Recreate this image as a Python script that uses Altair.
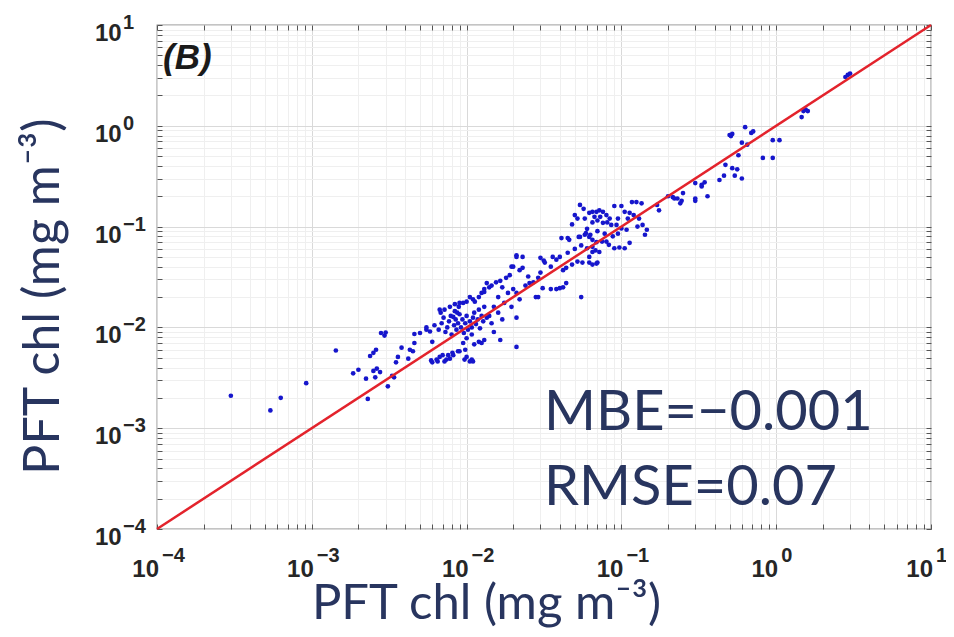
import altair as alt
import pandas as pd

# ---- data (obs, est) in mg m^-3 ----
low_pts = [
    (3.0e-4, 2.1e-3), (5.4e-4, 1.5e-3), (6.3e-4, 2.0e-3), (9.2e-4, 2.8e-3),
    (1.43e-3, 5.9e-3), (1.85e-3, 3.5e-3), (2.0e-3, 3.8e-3), (2.24e-3, 3.1e-3),
    (2.3e-3, 1.95e-3), (2.38e-3, 5.2e-3), (2.5e-3, 5.6e-3), (2.6e-3, 6.0e-3),
    (2.63e-3, 3.9e-3), (2.57e-3, 3.2e-3), (2.76e-3, 3.6e-3), (2.8e-3, 8.8e-3),
    (2.95e-3, 8.3e-3), (3.0e-3, 8.9e-3), (3.1e-3, 2.6e-3), (3.3e-3, 3.3e-3),
    (3.4e-3, 3.2e-3), (3.5e-3, 4.5e-3), (3.6e-3, 5.1e-3), (3.8e-3, 6.3e-3),
    (4.2e-3, 4.9e-3), (4.3e-3, 6.0e-3), (4.5e-3, 5.8e-3), (4.6e-3, 7.0e-3),
    (4.6e-3, 8.6e-3), (2.5e-3, 3.7e-3),
]

cluster_pts = [
    (5.0e-3, 8.8e-3), (5.5e-3, 9.5e-3), (5.5e-3, 1.0e-2), (5.8e-3, 9.1e-3),
    (6.0e-3, 7.2e-3), (6.0e-3, 4.5e-3), (5.9e-3, 4.7e-3), (6.4e-3, 4.8e-3),
    (6.5e-3, 4.6e-3), (6.7e-3, 5.1e-3), (7.0e-3, 5.3e-3), (7.2e-3, 4.6e-3),
    (7.4e-3, 4.8e-3), (7.6e-3, 5.3e-3), (7.8e-3, 4.9e-3), (8.1e-3, 5.6e-3),
    (8.2e-3, 5.3e-3), (8.8e-3, 5.8e-3), (9.0e-3, 5.8e-3), (9.7e-3, 4.8e-3),
    (9.8e-3, 6.0e-3), (1.0e-2, 5.1e-3), (1.05e-2, 4.6e-3), (1.08e-2, 4.8e-3),
    (1.1e-2, 4.6e-3), (9.5e-3, 7.0e-3), (1.0e-2, 7.8e-3), (1.08e-2, 8.5e-3),
    (1.12e-2, 6.8e-3), (1.2e-2, 7.2e-3), (1.25e-2, 7.0e-3), (1.3e-2, 7.5e-3),
    (6.2e-3, 1.05e-2), (6.6e-3, 9.5e-3), (6.9e-3, 1.1e-2), (7.1e-3, 1.25e-2),
    (7.3e-3, 9.0e-3), (7.5e-3, 1.0e-2), (7.7e-3, 1.15e-2), (7.9e-3, 1.3e-2),
    (8.0e-3, 8.5e-3), (8.3e-3, 1.05e-2), (8.5e-3, 1.2e-2), (8.6e-3, 9.5e-3),
    (8.8e-3, 1.1e-2), (9.0e-3, 1.35e-2), (9.2e-3, 1.0e-2), (9.4e-3, 1.2e-2),
    (9.6e-3, 8.8e-3), (9.8e-3, 1.1e-2), (1.0e-2, 1.3e-2), (1.02e-2, 9.5e-3),
    (1.05e-2, 1.15e-2), (1.08e-2, 1.0e-2), (1.1e-2, 1.25e-2), (1.12e-2, 1.4e-2),
    (1.15e-2, 1.08e-2), (1.18e-2, 1.2e-2), (1.2e-2, 1.5e-2), (1.22e-2, 9.8e-3),
    (1.25e-2, 1.3e-2), (1.28e-2, 1.15e-2), (1.3e-2, 1.6e-2), (1.35e-2, 1.25e-2),
    (6.8e-3, 1.4e-2), (7.2e-3, 1.5e-2), (8.4e-3, 1.45e-2), (8.9e-3, 1.6e-2),
    (6.7e-3, 1.5e-2), (7.8e-3, 1.6e-2), (8.4e-3, 1.7e-2), (9.0e-3, 1.75e-2),
    (1.0e-2, 1.8e-2), (1.1e-2, 1.9e-2), (1.2e-2, 2.0e-2), (1.3e-2, 2.4e-2),
    (1.35e-2, 2.75e-2), (8.2e-3, 1.27e-2), (8.7e-3, 1.4e-2), (9.5e-3, 1.75e-2),
    (1.05e-2, 2.0e-2), (1.13e-2, 1.8e-2), (1.25e-2, 2.2e-2), (1.3e-2, 2.25e-2),
]

mid_pts = [
    (1.4e-2, 2.5e-2), (1.45e-2, 2.6e-2), (1.55e-2, 2.8e-2), (1.65e-2, 2.9e-2),
    (1.7e-2, 2.5e-2), (1.8e-2, 3.1e-2), (1.9e-2, 3.3e-2), (1.95e-2, 4.0e-2),
    (2.0e-2, 4.0e-2), (2.1e-2, 5.0e-2), (2.3e-2, 5.0e-2), (2.1e-2, 5.2e-2),
    (2.2e-2, 3.7e-2), (2.3e-2, 3.9e-2), (2.55e-2, 2.75e-2), (2.7e-2, 2.8e-2),
    (2.9e-2, 3.1e-2), (3.0e-2, 3.5e-2), (3.0e-2, 4.9e-2), (3.15e-2, 4.6e-2),
    (3.2e-2, 4.4e-2), (3.5e-2, 4.0e-2), (3.6e-2, 5.0e-2), (3.8e-2, 4.7e-2),
    (3.1e-2, 2.45e-2), (3.5e-2, 2.4e-2), (3.8e-2, 2.4e-2), (4.0e-2, 2.45e-2),
    (4.2e-2, 2.5e-2), (4.4e-2, 2.75e-2), (2.8e-2, 2.0e-2), (2.9e-2, 2.0e-2),
    (2.2e-2, 1.9e-2), (1.95e-2, 1.6e-2), (2.1e-2, 1.25e-2), (2.1e-2, 6.4e-3),
    (1.65e-2, 7.5e-3), (1.5e-2, 9.0e-3), (1.45e-2, 1.1e-2), (1.7e-2, 1.2e-2),
    (1.4e-2, 1.3e-2), (1.6e-2, 1.4e-2), (1.5e-2, 1.6e-2), (1.6e-2, 2.0e-2),
    (1.75e-2, 1.75e-2), (1.85e-2, 2.2e-2), (2.0e-2, 2.4e-2), (2.1e-2, 2.2e-2),
    (2.4e-2, 2.6e-2), (2.5e-2, 3.2e-2), (4.2e-2, 3.7e-2), (4.4e-2, 3.9e-2),
    (4.0e-2, 5.0e-2), (4.1e-2, 7.7e-2), (4.5e-2, 7.7e-2), (4.5e-2, 5.5e-2),
]

upper_pts = [
    (4.8e-2, 1.05e-1), (4.8e-2, 4.2e-2), (4.6e-2, 7.4e-2), (5.0e-2, 6.0e-2),
    (5.0e-2, 0.13), (5.2e-2, 0.12), (5.2e-2, 4.5e-2), (5.3e-2, 7.9e-2),
    (5.4e-2, 0.164), (5.4e-2, 7.9e-2), (5.5e-2, 2.0e-2), (5.5e-2, 6.5e-2),
    (5.6e-2, 4.4e-2), (5.7e-2, 0.15), (5.8e-2, 0.12), (5.8e-2, 8.3e-2),
    (5.9e-2, 8.6e-2), (6.0e-2, 6.1e-2), (6.0e-2, 9.5e-2), (6.2e-2, 0.137),
    (6.2e-2, 7.9e-2), (6.2e-2, 5.0e-2), (6.2e-2, 4.4e-2), (6.3e-2, 8.3e-2),
    (6.5e-2, 0.14), (6.5e-2, 0.11), (6.5e-2, 7.4e-2), (6.5e-2, 6.3e-2),
    (6.5e-2, 5.6e-2), (6.5e-2, 4.2e-2), (6.7e-2, 0.125), (6.8e-2, 5.8e-2),
    (6.9e-2, 0.14), (6.9e-2, 7.0e-2), (6.9e-2, 4.3e-2), (7.0e-2, 0.115),
    (7.0e-2, 9.0e-2), (7.0e-2, 4.4e-2), (7.2e-2, 0.145), (7.2e-2, 5.6e-2),
    (7.3e-2, 0.125), (7.5e-2, 7.1e-2), (7.6e-2, 0.14), (7.6e-2, 0.109),
    (7.8e-2, 8.5e-2), (8.0e-2, 0.13), (8.0e-2, 7.1e-2), (8.1e-2, 0.11),
    (8.3e-2, 6.6e-2), (8.4e-2, 0.12), (8.6e-2, 0.104), (8.8e-2, 8.0e-2),
    (9.0e-2, 0.16), (9.0e-2, 6.1e-2), (9.3e-2, 0.104), (9.5e-2, 0.12),
    (9.5e-2, 8.5e-2), (9.7e-2, 6.2e-2), (0.1, 0.096), (0.1, 0.16),
    (0.105, 0.14), (0.105, 6.1e-2), (0.108, 0.093), (0.11, 0.12),
    (0.113, 0.137), (0.113, 6.9e-2), (0.117, 0.175), (0.12, 0.13),
    (0.125, 0.175), (0.127, 0.1), (0.13, 0.12), (0.135, 0.17),
    (0.137, 0.104), (0.142, 8.3e-2), (0.146, 9.3e-2),
]

high_pts = [
    (0.17, 0.164), (0.175, 0.145), (0.2, 0.2), (0.215, 0.196), (0.22, 0.19),
    (0.23, 0.19), (0.24, 0.17), (0.245, 0.18), (0.25, 0.215), (0.3, 0.18),
    (0.3, 0.19), (0.3, 0.27), (0.33, 0.26), (0.33, 0.25), (0.345, 0.275),
    (0.36, 0.2), (0.43, 0.29), (0.46, 0.32), (0.47, 0.41), (0.5, 0.81),
    (0.51, 0.79), (0.52, 0.83), (0.52, 0.38), (0.54, 0.32), (0.56, 0.37),
    (0.57, 0.51), (0.6, 0.68), (0.6, 0.3), (0.63, 0.97), (0.65, 0.65),
    (0.69, 0.85), (0.71, 0.88), (0.82, 0.48), (0.95, 0.72), (0.95, 0.48),
    (1.05, 0.72), (1.46, 1.22), (1.5, 1.4), (1.55, 1.45), (1.6, 1.4),
    (2.8, 3.05), (2.9, 3.2), (3.0, 3.3),
]

one_to_one = [1e-4, 10.0]
decade_values = [1e-4, 1e-3, 1e-2, 1e-1, 1.0, 10.0]
decade_base = ["10", "10", "10", "10", "10", "10"]
decade_exps = ["−4", "−3", "−2", "−1", "0", "1"]
panel_label = "(B)"
stat_lines = ["MBE=−0.001", "RMSE=0.07"]
axis_title = "PFT chl (mg m⁻³)"

# ---- tables ----
df = pd.DataFrame(low_pts + cluster_pts + mid_pts + upper_pts + high_pts,
                  columns=["obs", "est"])
df_line = pd.DataFrame({"obs": one_to_one, "est": one_to_one})
df_dec = pd.DataFrame({"v": decade_values, "base": decade_base, "exp": decade_exps})
df_one = pd.DataFrame({"k": [0]})

tick_values = [m * 10.0 ** e for e in range(-4, 1) for m in range(1, 10)] + [10.0]
lg = "(log(datum.value)/LN10)"
isdec = f"abs({lg} - round({lg})) < 0.001"
grid_color = {"condition": {"test": isdec, "value": "#d9d9d9"}, "value": "#efefef"}

NAVY = "#28355f"
LABEL_C = "#262626"
xs = alt.Scale(type="log", domain=[1e-4, 10], nice=False)
ys = alt.Scale(type="log", domain=[1e-4, 10], nice=False)

common = dict(values=tick_values, labels=False, grid=True, gridColor=grid_color,
              gridWidth=1, domain=False, ticks=True, tickSize=5, tickColor="#555555",
              offset=-5, title=axis_title, titleFont="Lato",
              titleFontWeight="normal", titleColor=NAVY, titleBaseline="alphabetic",
              titleAlign="center")

x_axis = alt.Axis(orient="bottom", titleX=329, titleY=94, titleFontSize=49, **common)
y_axis = alt.Axis(orient="left", titleX=-104, titleY=271, titleAngle=270,
                  titleFontSize=50, **common)

points = alt.Chart(df).mark_circle(size=22, color="#1616cc", opacity=1).encode(
    x=alt.X("obs:Q", scale=xs, axis=x_axis),
    y=alt.Y("est:Q", scale=ys, axis=y_axis),
)

box_ax = dict(values=tick_values, labels=False, title=None, grid=False, domain=False,
              ticks=True, tickSize=5, tickColor="#555555", offset=-5)
line = alt.Chart(df_line).mark_line(color="#e3232c", strokeWidth=2.5).encode(
    x=alt.X("obs:Q", scale=xs, axis=alt.Axis(orient="top", **box_ax)),
    y=alt.Y("est:Q", scale=ys, axis=alt.Axis(orient="right", **box_ax)),
)

lab_font = dict(font="Liberation Sans", fontWeight="bold", color=LABEL_C,
                baseline="alphabetic")

# tick labels: "10" with a raised exponent, placed through the scales
xlab_base = alt.Chart(df_dec).mark_text(fontSize=24, align="right", dx=2, **lab_font).encode(
    x=alt.X("v:Q", scale=xs, axis=None), y=alt.value(552), text="base:N")
xlab_exp = alt.Chart(df_dec).mark_text(fontSize=20, align="left", dx=5, **lab_font).encode(
    x=alt.X("v:Q", scale=xs, axis=None), y=alt.value(537), text="exp:N")
ylab_base = alt.Chart(df_dec).mark_text(fontSize=24, align="left", dy=16, **lab_font).encode(
    y=alt.Y("v:Q", scale=ys, axis=None), x=alt.value(-62), text="base:N")
ylab_exp = alt.Chart(df_dec).mark_text(fontSize=20, align="left", dy=4, **lab_font).encode(
    y=alt.Y("v:Q", scale=ys, axis=None), x=alt.value(-34), text="exp:N")

panel = alt.Chart(df_one).mark_text(
    text=panel_label, font="Liberation Sans", fontSize=35, fontWeight="bold",
    fontStyle="italic", color="#1a1a1a", align="left", baseline="alphabetic",
).encode(x=alt.value(6), y=alt.value(44))

stat1 = alt.Chart(df_one).mark_text(
    text=stat_lines[0], font="Lato", fontSize=56, color=NAVY, align="left",
    baseline="alphabetic",
).encode(x=alt.value(387), y=alt.value(405))

stat2 = alt.Chart(df_one).mark_text(
    text=stat_lines[1], font="Lato", fontSize=56, color=NAVY, align="left",
    baseline="alphabetic",
).encode(x=alt.value(387), y=alt.value(480))

chart = alt.layer(points, line, xlab_base, xlab_exp, ylab_base, ylab_exp,
                  panel, stat1, stat2).resolve_axis(
    x="independent", y="independent"
).properties(
    width=774, height=504,
    autosize=alt.AutoSizeParams(type="none"),
    padding={"left": 149, "top": 17, "right": 15, "bottom": 100},
    background="white",
).configure_view(stroke="#8a8a8a", strokeWidth=1.3)

chart.save("out.html", embed_options={"renderer": "svg", "actions": False})
